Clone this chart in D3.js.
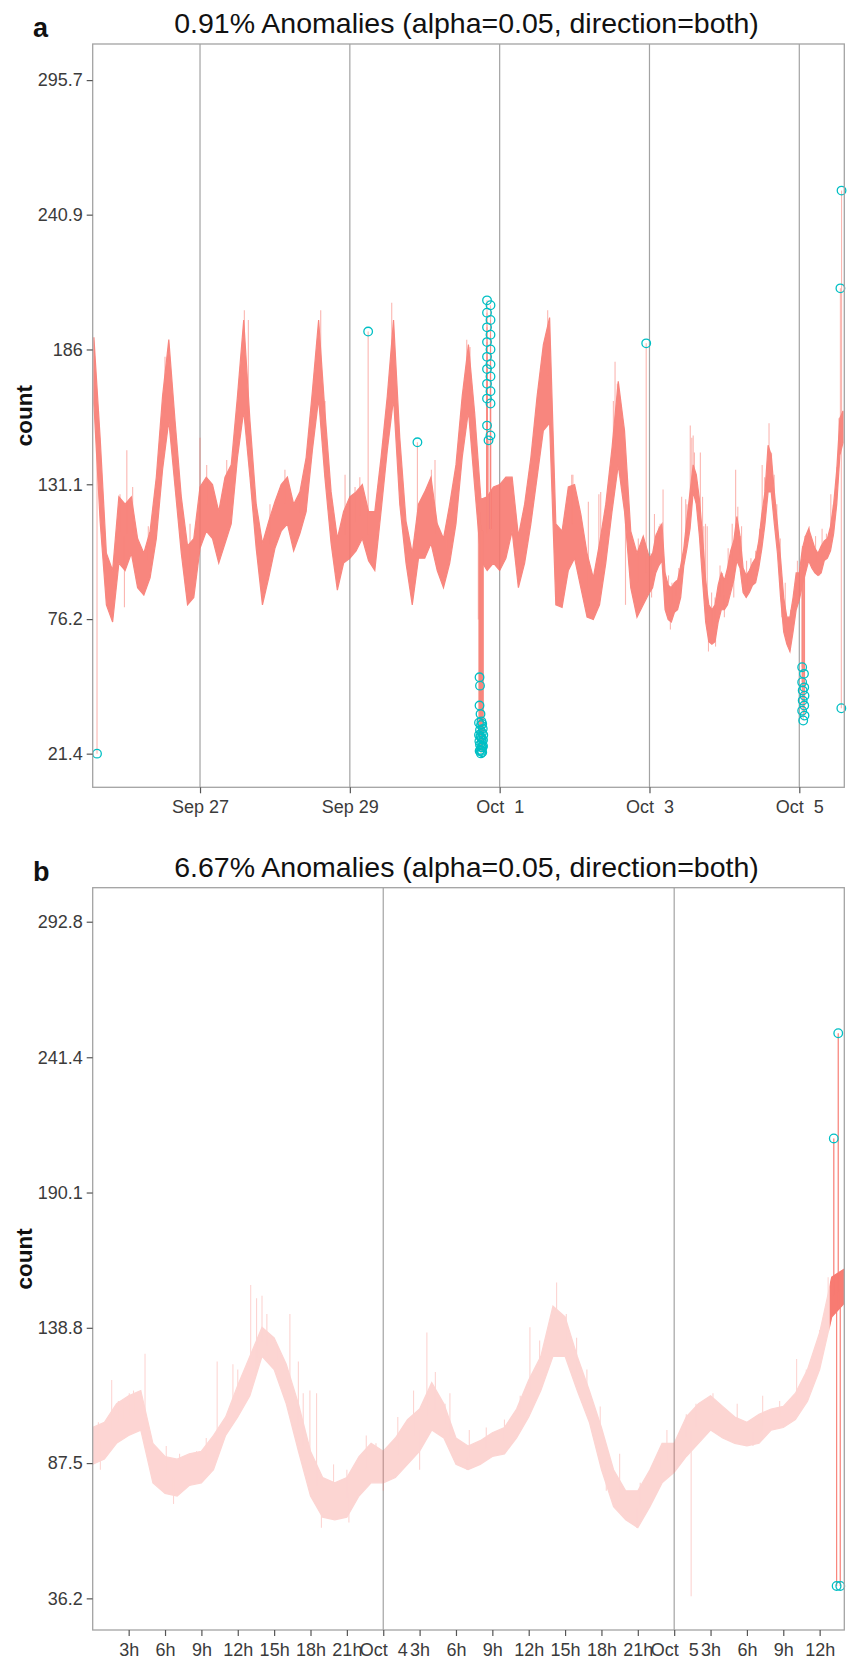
<!DOCTYPE html>
<html>
<head>
<meta charset="utf-8">
<script src="https://cdn.jsdelivr.net/npm/d3@7"></script>
<style>
  body { margin: 0; background: #fff; }
  text { font-family: 'Liberation Sans', Arial, sans-serif; }
</style>
</head>
<body>
<svg id="chart" width="851" height="1660"></svg>
<script>
// band of the per-minute counts (min / max)
// every 2 hours, Sep 25 14:00 -> Oct 2 22:00
var coarseStart = '2014-09-25T14:00'
var coarseLow = [
  164, 116, 82, 75, 99,
  96, 103, 89, 86, 93, 109, 137, 157, 130, 103, 82, 85,
  105, 112, 109, 99, 107, 115, 142, 161, 134, 105, 82, 93,
  105, 112, 115, 104, 111, 120, 145, 166, 134, 107, 88, 99,
  101, 104, 109, 100, 96, 120, 145, 166, 123, 99, 82, 101,
  101, 107, 96, 89, 99, 115, 142, 161, 130, 100, 96, 99,
  96, 101, 112, 89, 99, 115, 134, 153, 156, 82, 81, 96,
  101, 89, 77, 76, 82, 99, 120, 139, 120, 89, 77, 82
]
var coarseHigh = [
  191, 150, 103, 96, 126,
  123, 126, 109, 103, 112, 134, 167, 190, 157, 126, 106, 109,
  130, 134, 131, 120, 134, 139, 167, 198, 157, 123, 107, 116,
  124, 131, 134, 123, 128, 142, 169, 198, 161, 128, 109, 120,
  126, 128, 131, 120, 120, 142, 167, 198, 150, 116, 103, 123,
  128, 134, 115, 109, 123, 139, 167, 188, 160, 125, 126, 130,
  131, 134, 134, 110, 123, 142, 167, 188, 199, 115, 112, 130,
  131, 119, 103, 93, 107, 123, 146, 173, 153, 112, 103, 110
]

// every hour, Oct 3 00:00 -> Oct 5 14:00 (this is all of panel b)
var fineStart = '2014-10-03T00:00'
var fineLow = [
  87, 89, 95, 98, 100, 80, 76, 75, 79, 80, 85, 98, 105, 113, 128, 123,
  110, 92, 75, 67, 66, 67, 75, 80, 80, 82, 87, 92, 100, 97, 87, 85,
  87, 90, 91, 97, 105, 115, 128, 128, 115, 103, 85, 71, 66, 63, 71, 80,
  84, 90, 95, 100, 97, 95, 94, 95, 100, 101, 104, 111, 123, 143, 148
]
var fineHigh = [
  101, 103, 110, 113, 115, 95, 90, 89, 91, 92, 98, 105, 117, 128, 139, 135,
  125, 110, 92, 82, 80, 82, 90, 95, 92, 97, 104, 108, 118, 110, 97, 94,
  96, 99, 101, 108, 119, 128, 147, 143, 128, 115, 101, 85, 77, 77, 85, 95,
  95, 105, 110, 113, 109, 105, 103, 106, 108, 109, 114, 123, 137, 158, 161
]

// single minutes sticking out of the band
var spikes = [
  ['2014-09-25T22:22', 127], ['2014-09-25T23:47', 81], ['2014-09-26T00:33', 145],
  ['2014-09-26T02:25', 130], ['2014-09-26T07:26', 114], ['2014-09-26T12:47', 183],
  ['2014-09-26T20:48', 115], ['2014-09-27T00:00', 150], ['2014-09-27T02:08', 139],
  ['2014-09-27T08:33', 141], ['2014-09-27T14:12', 202], ['2014-09-27T15:29', 198],
  ['2014-09-27T22:25', 123], ['2014-09-28T03:12', 137], ['2014-09-28T08:02', 128],
  ['2014-09-28T14:40', 202], ['2014-09-28T16:03', 165], ['2014-09-28T22:28', 135],
  ['2014-09-29T01:40', 130], ['2014-09-29T03:12', 134], ['2014-09-29T13:25', 205],
  ['2014-09-30T02:08', 137], ['2014-09-30T03:17', 141], ['2014-09-30T07:02', 112],
  ['2014-09-30T13:27', 190], ['2014-09-30T14:30', 187], ['2014-09-30T17:10', 76],
  ['2014-10-01T15:23', 202], ['2014-10-01T23:05', 135], ['2014-10-01T23:28', 135],
  ['2014-10-02T04:25', 124], ['2014-10-02T07:47', 127], ['2014-10-02T08:22', 128],
  ['2014-10-02T12:26', 165], ['2014-10-02T12:58', 181], ['2014-10-02T13:42', 172],
  ['2014-10-02T16:19', 82], ['2014-10-02T20:25', 109],
  ['2014-10-03T00:30', 103], ['2014-10-03T00:40', 85], ['2014-10-03T01:36', 119],
  ['2014-10-03T02:09', 111], ['2014-10-03T02:36', 110], ['2014-10-03T03:03', 114],
  ['2014-10-03T03:24', 115], ['2014-10-03T04:21', 129], ['2014-10-03T06:06', 94],
  ['2014-10-03T06:42', 72], ['2014-10-03T07:12', 91], ['2014-10-03T08:36', 92],
  ['2014-10-03T09:24', 97], ['2014-10-03T10:18', 126], ['2014-10-03T11:36', 125],
  ['2014-10-03T12:00', 123], ['2014-10-03T13:04', 155], ['2014-10-03T13:33', 150],
  ['2014-10-03T14:00', 151], ['2014-10-03T14:24', 144], ['2014-10-03T15:12', 132],
  ['2014-10-03T16:18', 144], ['2014-10-03T17:00', 126], ['2014-10-03T17:24', 114],
  ['2014-10-03T17:57', 115], ['2014-10-03T18:30', 114], ['2014-10-03T18:54', 63],
  ['2014-10-03T19:54', 87], ['2014-10-03T21:00', 85], ['2014-10-03T21:10', 65],
  ['2014-10-03T22:36', 98], ['2014-10-03T23:24', 95], ['2014-10-04T00:00', 77],
  ['2014-10-04T01:12', 105], ['2014-10-04T02:30', 115], ['2014-10-04T03:00', 85],
  ['2014-10-04T03:36', 137], ['2014-10-04T04:18', 122], ['2014-10-04T05:06', 110],
  ['2014-10-04T05:30', 114], ['2014-10-04T06:54', 85], ['2014-10-04T07:06', 100],
  ['2014-10-04T08:30', 101], ['2014-10-04T10:00', 104], ['2014-10-04T11:18', 113],
  ['2014-10-04T12:06', 139], ['2014-10-04T12:54', 134], ['2014-10-04T14:18', 156],
  ['2014-10-04T15:06', 144], ['2014-10-04T15:57', 135], ['2014-10-04T16:48', 123],
  ['2014-10-04T17:54', 109], ['2014-10-04T18:24', 77], ['2014-10-04T19:30', 91],
  ['2014-10-04T20:54', 63], ['2014-10-04T21:12', 80], ['2014-10-04T22:48', 90],
  ['2014-10-04T23:24', 100], ['2014-10-05T01:00', 106], ['2014-10-05T01:24', 37],
  ['2014-10-05T01:48', 110], ['2014-10-05T03:12', 114], ['2014-10-05T05:12', 110],
  ['2014-10-05T06:30', 94], ['2014-10-05T07:18', 113], ['2014-10-05T08:42', 111],
  ['2014-10-05T10:06', 127], ['2014-10-05T10:54', 123], ['2014-10-05T12:00', 138],
  ['2014-10-05T12:42', 158]
]

// anomalies flagged in panel a (whole period)
var anomaliesA = [
  ['2014-09-25T15:00', 21.4], ['2014-09-29T05:52', 193.3], ['2014-09-29T21:39', 148.2],
  // evening of Sep 30, the drop
  ['2014-09-30T17:33', 52.5], ['2014-09-30T17:42', 49.1], ['2014-09-30T17:33', 41],
  ['2014-09-30T17:52', 37.5], ['2014-09-30T17:23', 34], ['2014-09-30T18:01', 33],
  ['2014-09-30T17:42', 31], ['2014-09-30T18:20', 30], ['2014-09-30T17:23', 29],
  ['2014-09-30T18:01', 28], ['2014-09-30T18:40', 27], ['2014-09-30T18:20', 26],
  ['2014-09-30T17:42', 25], ['2014-09-30T18:30', 24], ['2014-09-30T17:52', 23],
  ['2014-09-30T18:11', 22.5], ['2014-09-30T18:35', 31.5], ['2014-09-30T18:10', 34.5],
  ['2014-09-30T18:45', 29], ['2014-09-30T18:15', 27.5], ['2014-09-30T17:30', 26.5],
  ['2014-09-30T18:40', 24.5], ['2014-09-30T18:05', 24], ['2014-09-30T17:35', 22.5],
  ['2014-09-30T18:25', 22], ['2014-09-30T18:00', 21.5], ['2014-09-30T17:50', 28.5],
  ['2014-09-30T18:25', 33.5],
  // and the jump right after
  ['2014-09-30T19:57', 206], ['2014-09-30T21:04', 204], ['2014-09-30T19:57', 201],
  ['2014-09-30T21:04', 198], ['2014-09-30T19:57', 195], ['2014-09-30T21:04', 192],
  ['2014-09-30T19:57', 189], ['2014-09-30T21:04', 186], ['2014-09-30T19:57', 183],
  ['2014-09-30T21:04', 180], ['2014-09-30T19:57', 178], ['2014-09-30T21:04', 175],
  ['2014-09-30T19:57', 172], ['2014-09-30T21:04', 169], ['2014-09-30T19:57', 166],
  ['2014-09-30T21:04', 164], ['2014-09-30T19:57', 155], ['2014-09-30T21:04', 151],
  ['2014-09-30T20:26', 149],
  ['2014-10-02T22:57', 188.5],
  // early Oct 5
  ['2014-10-05T00:55', 56.6], ['2014-10-05T01:30', 53.9], ['2014-10-05T00:55', 50.5],
  ['2014-10-05T01:35', 48.4], ['2014-10-05T01:05', 47.1], ['2014-10-05T01:40', 45],
  ['2014-10-05T01:05', 43], ['2014-10-05T01:35', 41], ['2014-10-05T00:55', 38.9],
  ['2014-10-05T01:40', 36.9], ['2014-10-05T01:15', 34.9],
  // end of the series
  ['2014-10-05T13:10', 210.9], ['2014-10-05T13:32', 250.7], ['2014-10-05T13:28', 39.9]
]

// anomalies flagged in panel b (last day only)
var anomaliesB = [
  ['2014-10-05T13:10', 210.6], ['2014-10-05T13:32', 250.5],
  ['2014-10-05T13:24', 40.9], ['2014-10-05T13:42', 40.9]
]

var yTicksA = [21.4, 76.2, 131.1, 186, 240.9, 295.7]
var yTicksB = [36.2, 87.5, 138.8, 190.1, 241.4, 292.8]

var parseT = d3.utcParse('%Y-%m-%dT%H:%M')

function buildSeries(start, stepHours, low, high) {
  var t0 = parseT(start).getTime()
  return low.map(function(v, i) {
    return { t: new Date(t0 + i * stepHours * 3600e3), low: v, high: high[i] }
  })
}

var fine = buildSeries(fineStart, 1, fineLow, fineHigh)
var seriesA = buildSeries(coarseStart, 2, coarseLow, coarseHigh).concat(fine)
var seriesB = fine

var salmon = '#F8766D', teal = '#00BFC4', frame = '#a3a3a3'
var left = 92.7, right = 844.3
var svg = d3.select('#chart')

function midAt(series, t) {
  var i = d3.bisector(function(d) { return d.t }).left(series, t)
  if (i <= 0) return (series[0].low + series[0].high) / 2
  if (i >= series.length) {
    var e = series[series.length - 1]
    return (e.low + e.high) / 2
  }
  var a = series[i - 1], b = series[i]
  var k = (t - a.t) / (b.t - a.t)
  return ((a.low + a.high) * (1 - k) + (b.low + b.high) * k) / 2
}

function drawPanel(p) {
  var x = d3.scaleUtc().domain(p.xDomain.map(parseT)).range([left, right])
  var y = d3.scaleLinear().domain(p.yDomain).range([p.bottom, p.top])
  var g = svg.append('g')

  g.append('clipPath').attr('id', 'clip-' + p.id)
    .append('rect')
    .attr('x', left).attr('y', p.top)
    .attr('width', right - left).attr('height', p.bottom - p.top)

  // vertical grid lines
  g.append('g')
    .selectAll('line')
    .data(x.ticks(p.gridEvery))
    .enter().append('line')
    .attr('x1', x).attr('x2', x)
    .attr('y1', p.top).attr('y2', p.bottom)
    .style('stroke', frame).style('stroke-width', 1.2)

  var t0 = p.series[0].t, t1 = p.series[p.series.length - 1].t
  var spk = spikes.filter(function(d) {
    var t = parseT(d[0])
    return t >= t0 && t <= t1
  })

  var area = d3.area()
    .x(function(d) { return x(d.t) })
    .y0(function(d) { return y(d.low) })
    .y1(function(d) { return y(d.high) })

  // whole layer gets one opacity so overlaps don't darken
  function drawData(layer, spikeOpacity) {
    layer.append('path')
      .datum(p.series)
      .attr('d', area)
      .style('fill', salmon)
      .style('stroke', salmon).style('stroke-width', 1.2)

    layer.append('g')
      .selectAll('line')
      .data(spk.concat(p.anomalies))
      .enter().append('line')
      .attr('x1', function(d) { return x(parseT(d[0])) })
      .attr('x2', function(d) { return x(parseT(d[0])) })
      .attr('y1', function(d) { return y(midAt(p.series, parseT(d[0]))) })
      .attr('y2', function(d) { return y(d[1]) })
      .style('stroke', salmon).style('stroke-opacity', spikeOpacity).style('stroke-width', 1.1)
  }

  var plot = g.append('g').attr('clip-path', 'url(#clip-' + p.id + ')')
    .append('g').style('opacity', p.layerOpacity)
  drawData(plot, p.spikeOpacity)

  if (p.recentFrom) {
    // the most recent stretch is drawn at full strength
    var xr = x(parseT(p.recentFrom))
    g.append('clipPath').attr('id', 'recent-' + p.id)
      .append('rect')
      .attr('x', xr).attr('y', p.top)
      .attr('width', right - xr).attr('height', p.bottom - p.top)
    drawData(g.append('g').attr('clip-path', 'url(#recent-' + p.id + ')')
      .append('g').style('opacity', 0.95), 0.95)
  }

  // anomalies
  g.append('g')
    .selectAll('circle')
    .data(p.anomalies)
    .enter().append('circle')
    .attr('cx', function(d) { return x(parseT(d[0])) })
    .attr('cy', function(d) { return y(d[1]) })
    .attr('r', 4.3)
    .style('fill', 'none').style('stroke', teal).style('stroke-width', 1.3)

  // panel border
  g.append('rect')
    .attr('x', left).attr('y', p.top)
    .attr('width', right - left).attr('height', p.bottom - p.top)
    .style('fill', 'none').style('stroke', frame).style('stroke-width', 1.3)

  // axes
  var yAxis = g.append('g')
    .attr('transform', 'translate(' + left + ',0)')
    .call(d3.axisLeft(y).tickValues(p.yTicks).tickFormat(function(d) { return String(d) })
      .tickSize(6).tickPadding(4).tickSizeOuter(0))
  var xAxis = g.append('g')
    .attr('transform', 'translate(0,' + p.bottom + ')')
    .call(d3.axisBottom(x).ticks(p.tickEvery).tickFormat(p.tickFormat)
      .tickSize(6).tickPadding(7).tickSizeOuter(0))

  ;[yAxis, xAxis].forEach(function(ax) {
    ax.select('.domain').remove()
    ax.selectAll('.tick line').style('stroke', '#555').style('stroke-width', 1.2)
    ax.selectAll('.tick text')
      .style('font-size', '18px').style('fill', '#3b3b3b')
      .style('font-family', "'Liberation Sans', Arial, sans-serif")
      .style('white-space', 'pre')
  })

  // titles
  g.append('text')
    .attr('x', (left + right) / 2 - 2).attr('y', p.top - 11)
    .attr('text-anchor', 'middle')
    .style('font-size', '28.5px').style('fill', '#111')
    .text(p.title)

  g.append('text')
    .attr('x', 33).attr('y', p.top - 7)
    .style('font-size', '27px').style('font-weight', 'bold').style('fill', '#111')
    .text(p.letter)

  g.append('text')
    .attr('transform', 'translate(32,' + (p.top + p.bottom) / 2 + ') rotate(-90)')
    .attr('text-anchor', 'middle')
    .style('font-size', '22.5px').style('font-weight', 'bold').style('fill', '#111')
    .text('count')
}

var dayFmt = d3.utcFormat('%b %e')
var hourFmt = d3.utcFormat('%-Hh')

drawPanel({
  id: 'a', letter: 'a',
  title: '0.91% Anomalies (alpha=0.05, direction=both)',
  top: 44, bottom: 787.3,
  xDomain: ['2014-09-25T13:37', '2014-10-05T14:25'],
  yDomain: [7.7, 310.4], yTicks: yTicksA,
  series: seriesA, anomalies: anomaliesA,
  layerOpacity: 0.88, spikeOpacity: 0.6,
  tickEvery: d3.utcDay.every(2), gridEvery: d3.utcDay.every(2),
  tickFormat: dayFmt
})

drawPanel({
  id: 'b', letter: 'b',
  title: '6.67% Anomalies (alpha=0.05, direction=both)',
  top: 887.7, bottom: 1630,
  xDomain: ['2014-10-03T00:02', '2014-10-05T14:02'],
  yDomain: [24.2, 305.7], yTicks: yTicksB,
  series: seriesB, anomalies: anomaliesB,
  layerOpacity: 0.3, spikeOpacity: 1,
  recentFrom: '2014-10-05T12:50',
  tickEvery: d3.utcHour.every(3), gridEvery: d3.utcDay.every(1),
  tickFormat: function(d) { return d.getUTCHours() === 0 ? dayFmt(d) : hourFmt(d) }
})
</script>
</body>
</html>
